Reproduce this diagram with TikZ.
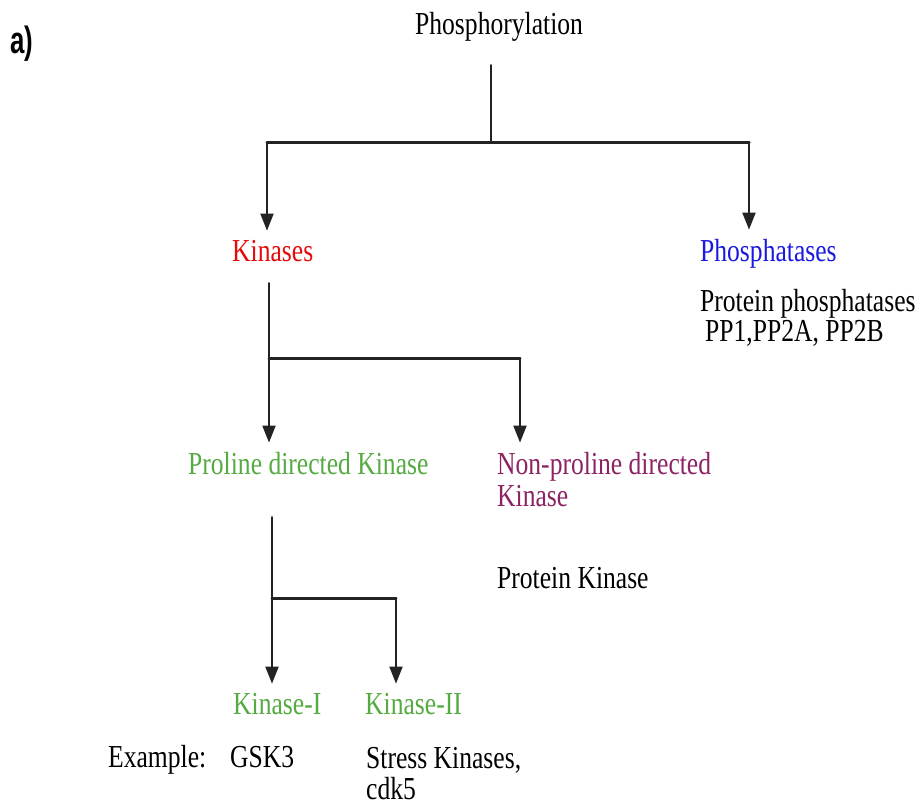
\documentclass[tikz,border=0pt]{standalone}
\usepackage{fontspec}
\setmainfont{Liberation Serif}
\setsansfont{Liberation Sans}
\usetikzlibrary{arrows.meta,positioning}
\definecolor{kinred}{RGB}{230,10,10}
\definecolor{phosblue}{RGB}{25,25,225}
\definecolor{progreen}{RGB}{85,170,65}
\definecolor{nonprored}{RGB}{140,35,100}
\definecolor{treeline}{RGB}{35,35,35}
\tikzset{
  every picture/.append style={line cap=round,line join=round},
  tree label/.style={font=\fontsize{32}{36}\selectfont,xscale=0.8,inner sep=0pt,anchor=base west},
  tree tag/.style={font=\sffamily\bfseries\fontsize{38}{40}\selectfont,xscale=0.68,inner sep=0pt,anchor=base west},
  tree stem/.style={treeline,line width=2pt},
  tree bar/.style={treeline,line width=3pt},
  tree arrow/.style={treeline,line width=2pt,-{Triangle[length=17pt,width=13pt]},shorten >=9pt}
}

\begin{document}
\begin{tikzpicture}[x=1pt,y=-1pt]
  \useasboundingbox (0,0) rectangle (919,807);
  % labels
  \node[tree tag] (tag) at (10,53) {a)};
  \node[tree label] (phos) at (415,34) {Phosphorylation};
  \node[tree label,kinred] (kin) at (232,261) {Kinases};
  \node[tree label,phosblue] (ptase) at (700,261) {Phosphatases};
  \node[tree label] (ptaseEx) at (700,311) {Protein phosphatases};
  \node[tree label] (ptaseList) at (705,341) {PP1,PP2A, PP2B};
  \node[tree label,progreen] (pro) at (188,474) {Proline directed Kinase};
  \node[tree label,nonprored] (nonpro) at (497,474) {Non-proline directed};
  \node[tree label,nonprored] (nonproB) at (497,506) {Kinase};
  \node[tree label] (pkin) at (497,588) {Protein Kinase};
  \node[tree label,progreen] (kinI) at (233,714) {Kinase-I};
  \node[tree label,progreen] (kinII) at (365,714) {Kinase-II};
  \node[tree label] (example) at (108,767) {Example:};
  \node[tree label] (gsk) at (230,767) {GSK3};
  \node[tree label] (stress) at (366,768) {Stress Kinases,};
  \node[tree label] (cdk) at (366,799) {cdk5};
  % branch points
  \coordinate (phosStem) at (491,65);
  \coordinate (phosJoin) at (491,142);
  \coordinate (kinJoin) at (267,142);
  \coordinate (ptaseJoin) at (749,142);
  \coordinate (kinStem) at (269,283);
  \coordinate (proJoin) at (269,358);
  \coordinate (nonproJoin) at (520,358);
  \coordinate (proStem) at (272,517);
  \coordinate (kinIJoin) at (272,598);
  \coordinate (kinIIJoin) at (396,598);
  % tree
  \draw[tree stem] (phosStem) -- (phosJoin);
  \draw[tree bar] (kinJoin) -- (ptaseJoin);
  \draw[tree stem] (kinStem) -- (proJoin);
  \draw[tree bar] (proJoin) -- (nonproJoin);
  \draw[tree stem] (proStem) -- (kinIJoin);
  \draw[tree bar] (kinIJoin) -- (kinIIJoin);
  \foreach \from/\to in {kinJoin/kin,ptaseJoin/ptase,proJoin/pro,nonproJoin/nonpro,kinIJoin/kinI,kinIIJoin/kinII}
    \draw[tree arrow] (\from) -- (\from |- \to.north);
\end{tikzpicture}
\end{document}
